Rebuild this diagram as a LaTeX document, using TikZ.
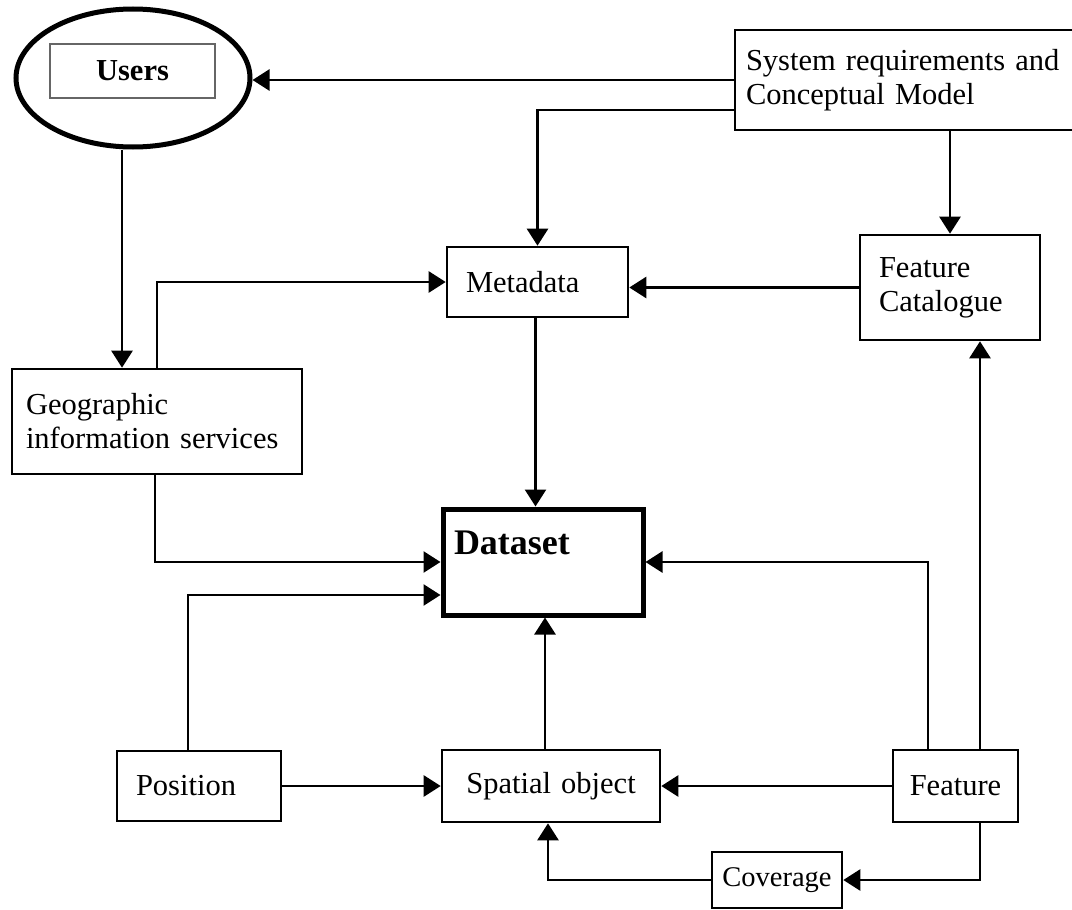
\documentclass[tikz,border=0pt]{standalone}
\usepackage{fontspec}
\setmainfont{Liberation Serif}
\usetikzlibrary{arrows.meta,shapes.geometric}
\begin{document}
\begin{tikzpicture}[x=1pt,y=-1pt,
  every node/.style={font=\fontsize{30.5}{34}\selectfont},
  box/.style={draw, line width=2.6pt, inner sep=0pt, align=left},
  arr/.style={line width=2.6pt, -{Triangle[length=17pt,width=21pt]}}]
\useasboundingbox (0,0) rectangle (1072,910);
% nodes
\node[draw, ellipse, line width=5pt, minimum width=234, minimum height=138, inner sep=0pt] (usersell) at (133,78) {};
\node[draw=black!60, line width=1.5pt, minimum width=165, minimum height=54, inner sep=0pt, font=\fontsize{30.5}{34}\selectfont\bfseries] (users) at (132.5,71) {Users};
\node[box, minimum width=340, minimum height=100, text width=318, inner xsep=11pt] (sys) at (905,80) {System requirements and\\Conceptual Model};
\node[box, minimum width=181, minimum height=70, text width=143, inner xsep=19pt] (meta) at (537.5,282) {Metadata};
\node[box, minimum width=180, minimum height=105, text width=142, inner xsep=19pt] (featcat) at (950,287.5) {Feature\\Catalogue};
\node[box, minimum width=290, minimum height=105, text width=262, inner xsep=14pt] (geo) at (157,421.5) {Geographic\\information services};
\node[box, line width=5pt, minimum width=200, minimum height=106, text width=178, inner xsep=11pt, text depth=38pt, font=\fontsize{36}{40}\selectfont\bfseries] (dataset) at (543,562) {Dataset};
\node[box, minimum width=164, minimum height=70, text width=126, inner xsep=19pt] (position) at (199,786) {Position};
\node[box, minimum width=218, minimum height=72, text width=198, inner xsep=10pt, align=center] (spatial) at (551,786) {Spatial object};
\node[box, minimum width=125, minimum height=72, text width=105, inner xsep=10pt, align=center] (feature) at (955.5,786) {Feature};
\node[box, minimum width=130, minimum height=56, text width=124, inner xsep=3pt, align=center, font=\fontsize{28.5}{32}\selectfont] (coverage) at (777,880) {Coverage};
% connectors
\draw[arr] (sys.west) -- (sys.west -| usersell.east);
\draw[arr] ([yshift=-30pt]sys.west) -| (meta.north);
\draw[arr] (featcat.north |- sys.south) -- (featcat.north);
\draw[arr] (featcat.west) -- (featcat.west -| meta.east);
\draw[arr] ([xshift=-11pt]usersell.south) -- ([xshift=-11pt]usersell.south |- geo.north);
\draw[arr] (geo.north) |- (meta.west);
\draw[arr] ([xshift=-2pt]geo.south) |- (dataset.west);
\draw[arr] ([xshift=-11pt]position.north) |- ([yshift=-33pt]dataset.west);
\draw[arr] ([xshift=-2pt]meta.south) -- ([xshift=-2pt]meta.south |- dataset.north);
\draw[arr] ([xshift=-6pt]spatial.north) -- ([xshift=-6pt]spatial.north |- dataset.south);
\draw[arr] ([xshift=-27.5pt]feature.north) |- (dataset.east);
\draw[arr] ([xshift=24.5pt]feature.north) -- ([xshift=24.5pt]feature.north |- featcat.south);
\draw[arr] (position.east) -- (position.east -| spatial.west);
\draw[arr] (feature.west) -- (feature.west -| spatial.east);
\draw[arr] ([xshift=24.5pt]feature.south) |- (coverage.east);
\draw[arr] (coverage.west) -| ([xshift=-3pt]spatial.south);
\end{tikzpicture}
\end{document}
